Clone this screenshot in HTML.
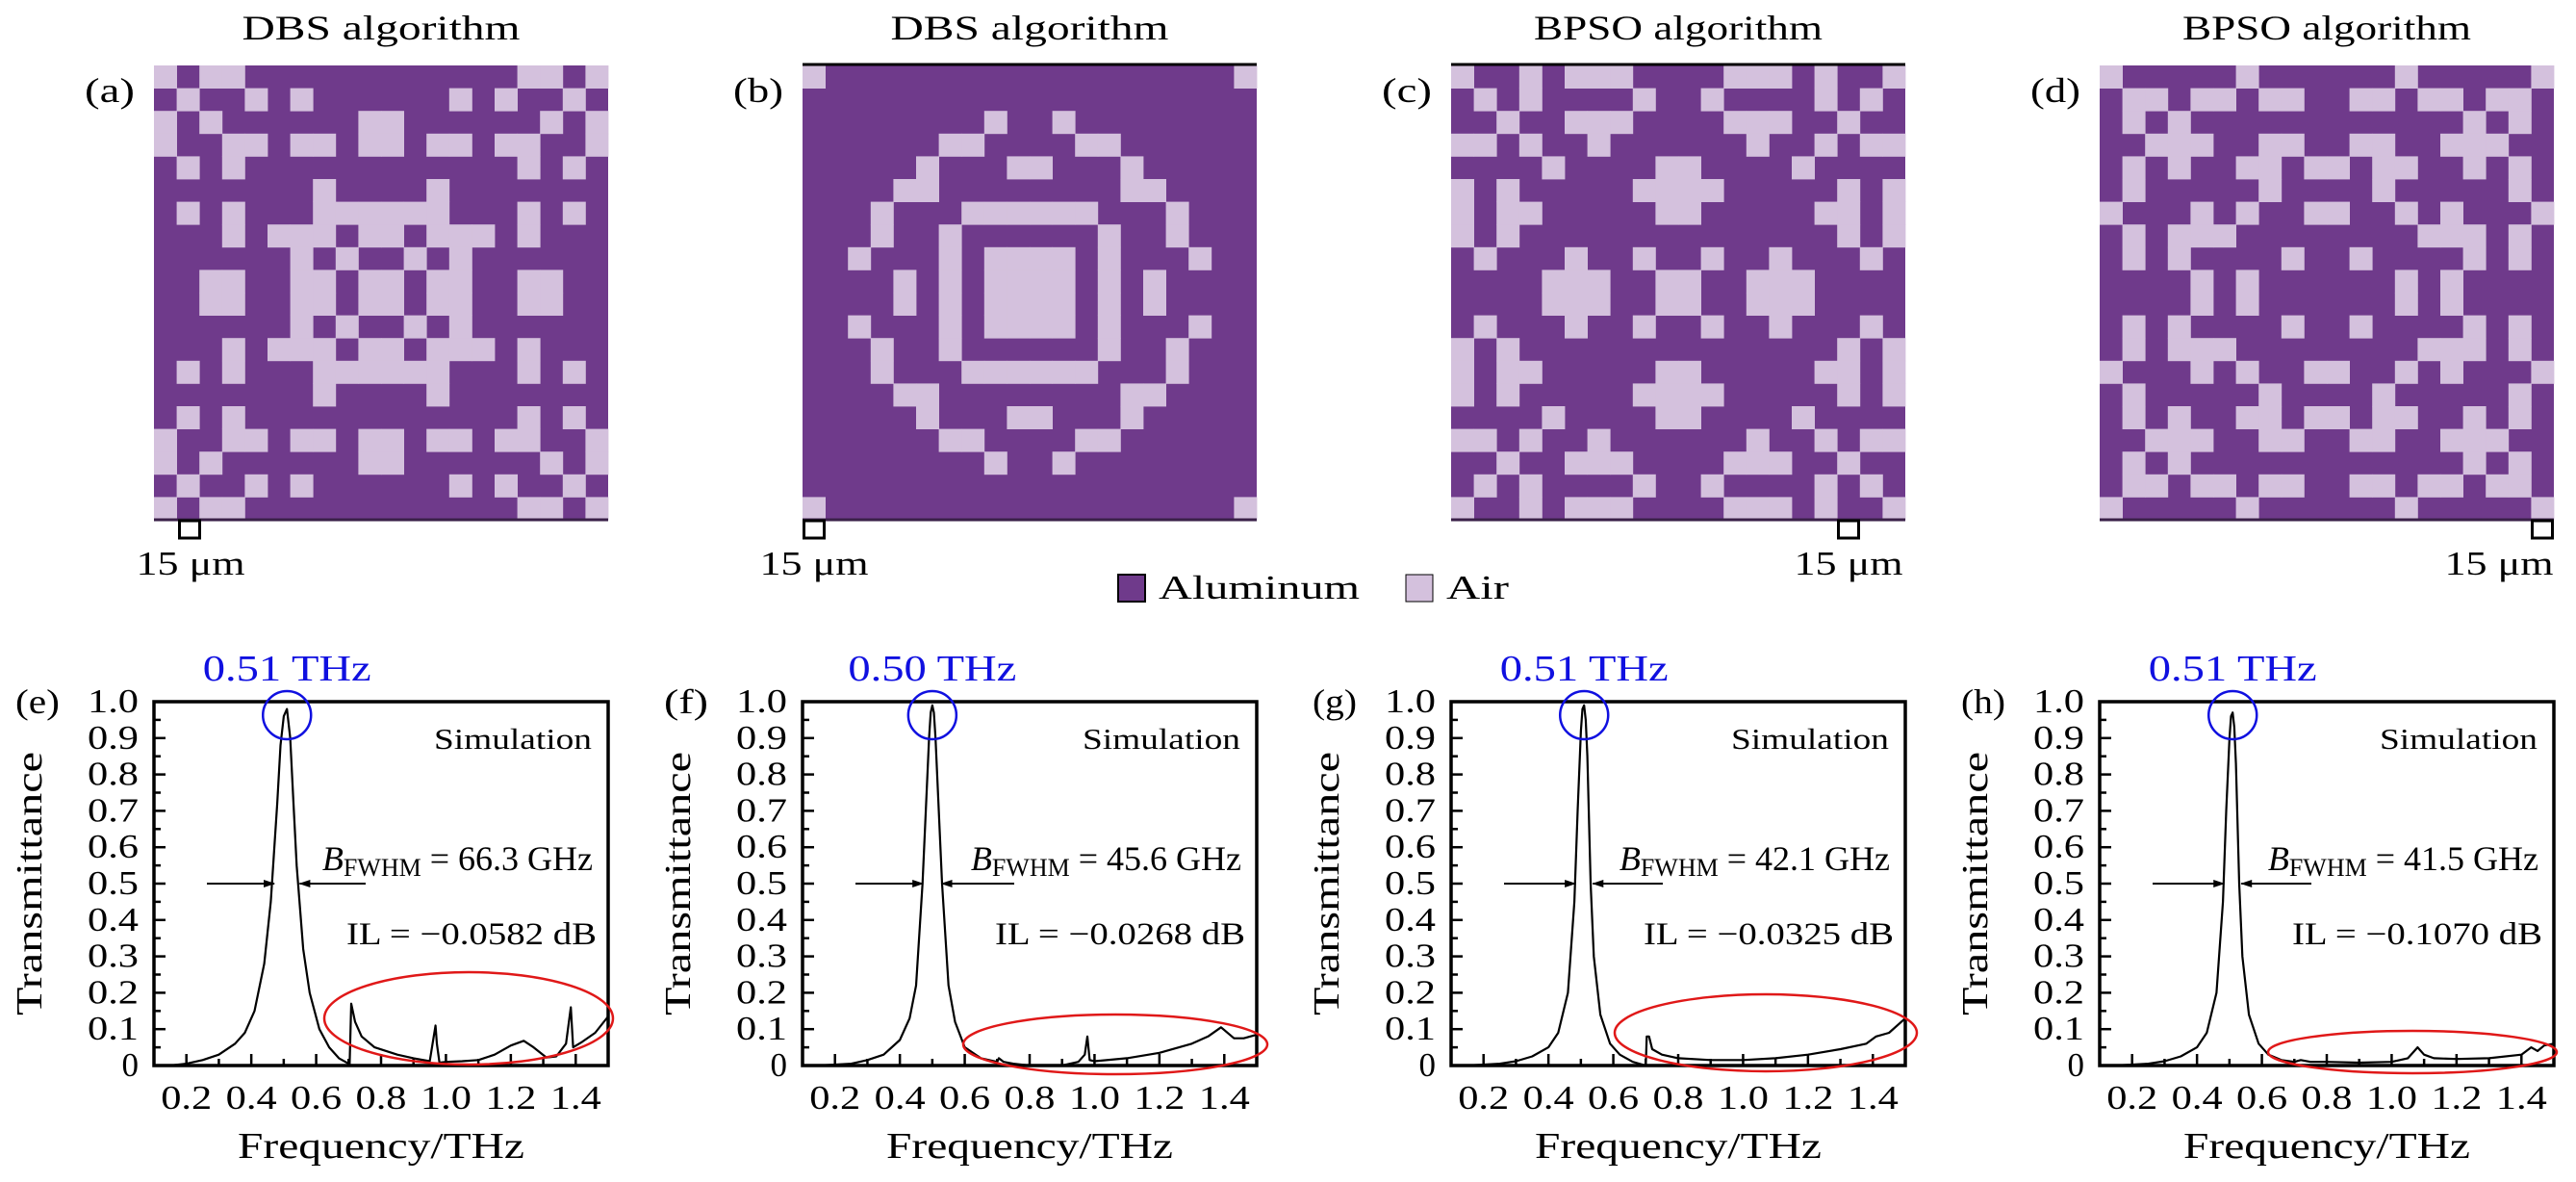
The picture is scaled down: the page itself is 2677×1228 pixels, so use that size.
<!DOCTYPE html>
<html><head><meta charset="utf-8"><style>
html,body{margin:0;padding:0;background:#fff;}
svg{display:block;font-family:"Liberation Serif",serif;}
</style></head><body>
<svg id="fig" xmlns="http://www.w3.org/2000/svg" width="2677" height="1228" viewBox="0 0 2677 1228"></svg>
<script>
// ---------- metasurface patterns (top-left quadrant half rows, 1 = air) ----------
const patternA = [
[1,0,1,1,0,0,0,0,0,0],[0,1,0,0,1,0,1,0,0,0],[1,0,1,0,0,0,0,0,0,1],[1,0,0,1,1,0,1,1,0,1],
[0,1,0,1,0,0,0,0,0,0],[0,0,0,0,0,0,0,1,0,0],[0,1,0,1,0,0,0,1,1,1],[0,0,0,1,0,1,1,1,0,1],
[0,0,0,0,0,0,1,0,1,0],[0,0,1,1,0,0,1,1,0,1]];
const patternB = [
[1,0,0,0,0,0,0,0,0,0],[0,0,0,0,0,0,0,0,0,0],[0,0,0,0,0,0,0,0,1,0],[0,0,0,0,0,0,1,1,0,0],
[0,0,0,0,0,1,0,0,0,1],[0,0,0,0,1,1,0,0,0,0],[0,0,0,1,0,0,0,1,1,1],[0,0,0,1,0,0,1,0,0,0],
[0,0,1,0,0,0,1,0,1,1],[0,0,0,0,1,0,1,0,1,1]];
const patternC = [
[1,0,0,1,0,1,1,1,0,0],[0,1,0,1,0,0,0,0,1,0],[0,0,1,0,0,1,1,1,0,0],[1,1,0,1,0,0,1,0,0,0],
[0,0,0,0,1,0,0,0,0,1],[1,0,1,0,0,0,0,0,1,1],[1,0,1,1,0,0,0,0,0,1],[1,0,1,0,0,0,0,0,0,0],
[0,1,0,0,0,1,0,0,1,0],[0,0,0,0,1,1,1,0,0,1]];
const patternD = [
[1,0,0,0,0,0,1,0,0,0],[0,1,1,0,1,1,0,1,1,0],[0,1,0,1,0,0,0,0,0,0],[0,0,1,1,1,0,0,1,1,0],
[0,1,0,1,0,0,1,1,0,1],[0,1,0,0,0,0,0,1,0,0],[1,0,0,0,1,0,1,0,0,1],[0,1,0,1,1,1,0,0,0,0],
[0,1,0,1,0,0,0,0,1,0],[0,0,0,0,1,0,1,0,0,0]];

// ---------- spectra data ----------
const freqE = [0.15,0.2,0.25,0.3,0.35,0.38,0.41,0.44,0.46,0.48,0.49,0.5,0.51,0.52,0.53,0.54,0.56,0.58,0.61,0.64,0.67,0.7,0.703,0.708,0.72,0.74,0.78,0.85,0.9,0.95,0.968,0.972,0.98,1.0,1.05,1.1,1.15,1.2,1.24,1.27,1.31,1.34,1.37,1.385,1.392,1.42,1.46,1.5];
const transE = [0,0.005,0.015,0.03,0.06,0.09,0.15,0.28,0.45,0.72,0.88,0.96,0.98,0.9,0.72,0.55,0.32,0.2,0.1,0.05,0.02,0.005,0.0,0.17,0.12,0.08,0.05,0.03,0.02,0.012,0.11,0.06,0.008,0.01,0.012,0.015,0.03,0.055,0.068,0.05,0.022,0.025,0.06,0.16,0.05,0.065,0.09,0.135];
const freqF = [0.15,0.25,0.3,0.35,0.4,0.43,0.45,0.47,0.48,0.49,0.495,0.5,0.505,0.51,0.52,0.53,0.55,0.57,0.6,0.65,0.7,0.705,0.72,0.75,0.8,0.9,0.95,0.97,0.978,0.985,1.0,1.1,1.2,1.3,1.35,1.39,1.43,1.46,1.5];
const transF = [0,0.005,0.015,0.03,0.07,0.13,0.22,0.5,0.7,0.9,0.97,0.99,0.97,0.9,0.7,0.5,0.22,0.12,0.05,0.02,0.01,0.02,0.01,0.005,0.0,0.0,0.01,0.03,0.08,0.015,0.012,0.02,0.035,0.06,0.08,0.105,0.075,0.075,0.085];
const freqG = [0.15,0.25,0.3,0.35,0.4,0.43,0.46,0.48,0.49,0.5,0.505,0.51,0.515,0.52,0.53,0.54,0.56,0.59,0.62,0.66,0.7,0.703,0.71,0.72,0.75,0.8,0.9,1.0,1.1,1.2,1.3,1.38,1.41,1.45,1.5];
const transG = [0,0.005,0.012,0.025,0.05,0.09,0.2,0.45,0.7,0.92,0.98,0.99,0.95,0.85,0.5,0.3,0.14,0.06,0.03,0.01,0.0,0.08,0.08,0.045,0.03,0.02,0.015,0.015,0.02,0.03,0.045,0.06,0.08,0.09,0.13];
const freqH = [0.15,0.25,0.3,0.35,0.4,0.43,0.46,0.48,0.49,0.5,0.505,0.51,0.515,0.52,0.53,0.54,0.56,0.59,0.62,0.66,0.7,0.72,0.75,0.8,0.9,1.0,1.05,1.08,1.1,1.13,1.2,1.3,1.4,1.43,1.45,1.47,1.5];
const transH = [0,0.005,0.012,0.025,0.05,0.09,0.2,0.45,0.7,0.9,0.96,0.97,0.93,0.83,0.5,0.3,0.14,0.06,0.03,0.015,0.01,0.015,0.01,0.01,0.008,0.01,0.02,0.05,0.03,0.02,0.018,0.02,0.03,0.05,0.04,0.055,0.06];
const peakFreqs = [0.51,0.50,0.51,0.51];
const peakLabels = ["0.51 THz","0.50 THz","0.51 THz","0.51 THz"];
const fwhmValues = [0.0663,0.0456,0.0421,0.0415];
const fwhmLabels = ["66.3 GHz","45.6 GHz","42.1 GHz","41.5 GHz"];
const ilLabels = ["\u22120.0582 dB","\u22120.0268 dB","\u22120.0325 dB","\u22120.1070 dB"];
const xTicks = [0.2,0.4,0.6,0.8,1.0,1.2,1.4];
const xTickLabels = ["0.2","0.4","0.6","0.8","1.0","1.2","1.4"];
const yTicks = [0,0.1,0.2,0.3,0.4,0.5,0.6,0.7,0.8,0.9,1.0];
const yTickLabels = ["0","0.1","0.2","0.3","0.4","0.5","0.6","0.7","0.8","0.9","1.0"];

const NS="http://www.w3.org/2000/svg";
const svg=document.getElementById('fig');
function mk(tag,attrs,parent){const e=document.createElementNS(NS,tag);for(const k in attrs)e.setAttribute(k,attrs[k]);(parent||svg).appendChild(e);return e;}
function txt(s,attrs,parent){const e=mk('text',attrs,parent);e.textContent=s;return e;}
const SG='spacingAndGlyphs';

const X0s=[160,834,1508,2182];
const DARK="#6f3a8b", LIGHT="#d4c1dd";
const GY=68, GS=472;
const patterns=[patternA,patternB,patternC,patternD];
const titles=["DBS algorithm","DBS algorithm","BPSO algorithm","BPSO algorithm"];
const titleW=[289,289,300,300];
const tags=["a","b","c","d"];
const barX=[185,834,1909,2630];
const barLabelX=[198,846,1921,2597];

patterns.forEach((p,k)=>{
  const X0=X0s[k];
  const g=mk('g',{});
  
  
  const cs=GS/20;
  const bg=mk('rect',{x:X0,y:GY,width:GS,height:GS,fill:DARK},g);
  
  
  for(let r=0;r<20;r++){for(let c=0;c<20;c++){
    const rr=r<10?r:19-r, cc=c<10?c:19-c;
    if(p[rr][cc]){const cell=mk('rect',{x:(X0+c*cs).toFixed(2),y:(GY+r*cs).toFixed(2),width:(cs+0.4).toFixed(2),height:(cs+0.4).toFixed(2),fill:LIGHT},g);
      
      }
  }}
  mk('line',{x1:X0,x2:X0+GS,y1:GY+GS,y2:GY+GS,stroke:'#3a2148','stroke-width':3},g);
  if(k===1||k===2){mk('line',{x1:X0,x2:X0+GS,y1:GY-1,y2:GY-1,stroke:'#000','stroke-width':3},g);}
  const t=txt(titles[k],{x:X0+236,y:41,'font-size':36,'text-anchor':'middle',textLength:titleW[k],lengthAdjust:SG});
  
  
  const l=txt('('+tags[k]+')',{x:X0-72,y:106,'font-size':36,textLength:52,lengthAdjust:SG});
  
  
  const sb=mk('rect',{x:barX[k]+1.5,y:GY+GS+1,width:21,height:18,fill:'none',stroke:'#000','stroke-width':3});
  
  
  const st=txt('15 \u03bcm',{x:barLabelX[k],y:597,'font-size':35,'text-anchor':'middle',textLength:113,lengthAdjust:SG});
  
  
});

// legend
const lg=mk('g',{});


mk('rect',{x:1162,y:597,width:28,height:28,fill:DARK,stroke:'#000','stroke-width':2},lg);
txt('Aluminum',{x:1204,y:622,'font-size':35,textLength:209,lengthAdjust:SG},lg);
mk('rect',{x:1461,y:597,width:28,height:28,fill:LIGHT,stroke:'#000','stroke-width':1},lg);
txt('Air',{x:1503,y:622,'font-size':35,textLength:65,lengthAdjust:SG},lg);

// ---------- spectra ----------
const PY0=729, PY1=1107, PW=472;
const freqs=[freqE,freqF,freqG,freqH], trans=[transE,transF,transG,transH];
const ptags=["e","f","g","h"];
const ellipses=[[327,1058,150,48],[325,1085,158,31],[327,1073,157,40],[325,1093,150,22]];
freqs.forEach((fr,k)=>{
  const X0=X0s[k];
  const xs=f=>X0+(f-0.1)/1.4*PW;
  const ys=v=>PY1-v*(PY1-PY0);
  const g=mk('g',{});
  
  
  for(let i=0;i<=20;i++){const v=i*0.05;const len=(i%2===0)?12:7;
    mk('line',{x1:X0,x2:X0+len,y1:ys(v),y2:ys(v),stroke:'#000','stroke-width':2.5},g);}
  for(let i=1;i<=14;i++){const f=0.1+i*0.1;const major=xTicks.some(t=>Math.abs(t-f)<1e-6);
    mk('line',{x1:xs(f),x2:xs(f),y1:PY1,y2:PY1-(major?12:7),stroke:'#000','stroke-width':2.5},g);}
  const d=fr.map((f,i)=>(i?'L':'M')+xs(f).toFixed(1)+' '+ys(trans[k][i]).toFixed(1)).join(' ');
  const path=mk('path',{d:d,fill:'none',stroke:'#000','stroke-width':2.2,'stroke-linejoin':'round'},g);
  
  
  mk('rect',{x:X0,y:PY0,width:PW,height:PY1-PY0,fill:'none',stroke:'#000','stroke-width':3.5},g);
  yTicks.forEach((v,i)=>{const a={x:X0-16,y:ys(v)+11,'font-size':35,'text-anchor':'end'};
    if(yTickLabels[i].length===3){a.textLength=53;a.lengthAdjust=SG;}
    const t=txt(yTickLabels[i],a,g);
    
    });
  xTicks.forEach((v,i)=>{const t=txt(xTickLabels[i],{x:xs(v),y:1152,'font-size':35,'text-anchor':'middle',textLength:53,lengthAdjust:SG},g);
    
    });
  const xl=txt('Frequency/THz',{x:X0+236,y:1203,'font-size':38,'text-anchor':'middle',textLength:298,lengthAdjust:SG},g);
  
  
  const yl=txt('Transmittance',{x:0,y:0,'font-size':38,'text-anchor':'middle',transform:`translate(${X0-117},918) rotate(-90)`,textLength:274,lengthAdjust:SG},g);
  
  
  const pl=txt('('+ptags[k]+')',{x:X0-144,y:741,'font-size':36,textLength:46,lengthAdjust:SG},g);
  
  
  const px=xs(peakFreqs[k]);
  const bl=txt(peakLabels[k],{x:px,y:707,'font-size':38,fill:'#1010e0','text-anchor':'middle',textLength:175,lengthAdjust:SG},g);
  
  
  const ci=mk('ellipse',{cx:px,cy:743,rx:25,ry:25,fill:'none',stroke:'#1010e0','stroke-width':2.5},g);
  
  
  const sim=txt('Simulation',{x:X0+455,y:778,'font-size':31,'text-anchor':'end',textLength:164,lengthAdjust:SG},g);
  
  
  const bw=txt('',{x:X0+456,y:904,'font-size':36,'text-anchor':'end'},g);
  
  
  const s1=mk('tspan',{'font-style':'italic'},bw);s1.textContent='B';
  const s2=mk('tspan',{'font-size':26,dy:6},bw);s2.textContent='FWHM';
  const s3=mk('tspan',{dy:-6},bw);s3.textContent=' = '+fwhmLabels[k];
  const il=txt('IL = '+ilLabels[k],{x:X0+200,y:981,'font-size':33,textLength:260,lengthAdjust:SG},g);
  
  
  const ay=ys(0.5);
  const lx=xs(peakFreqs[k]-fwhmValues[k]/2), rx=xs(peakFreqs[k]+fwhmValues[k]/2);
  const ar=mk('g',{},g);
  
  
  mk('line',{x1:X0+55,x2:lx-2,y1:ay,y2:ay,stroke:'#000','stroke-width':2},ar);
  mk('path',{d:`M${lx-1} ${ay} L${lx-13} ${ay-4} L${lx-13} ${ay+4}Z`,fill:'#000'},ar);
  mk('line',{x1:rx+2,x2:X0+220,y1:ay,y2:ay,stroke:'#000','stroke-width':2},ar);
  mk('path',{d:`M${rx+1} ${ay} L${rx+13} ${ay-4} L${rx+13} ${ay+4}Z`,fill:'#000'},ar);
  const e=ellipses[k];
  const el=mk('ellipse',{cx:X0+e[0],cy:e[1],rx:e[2],ry:e[3],fill:'none',stroke:'#e01818','stroke-width':2.5},g);
  
  
});
</script>
</body></html>
